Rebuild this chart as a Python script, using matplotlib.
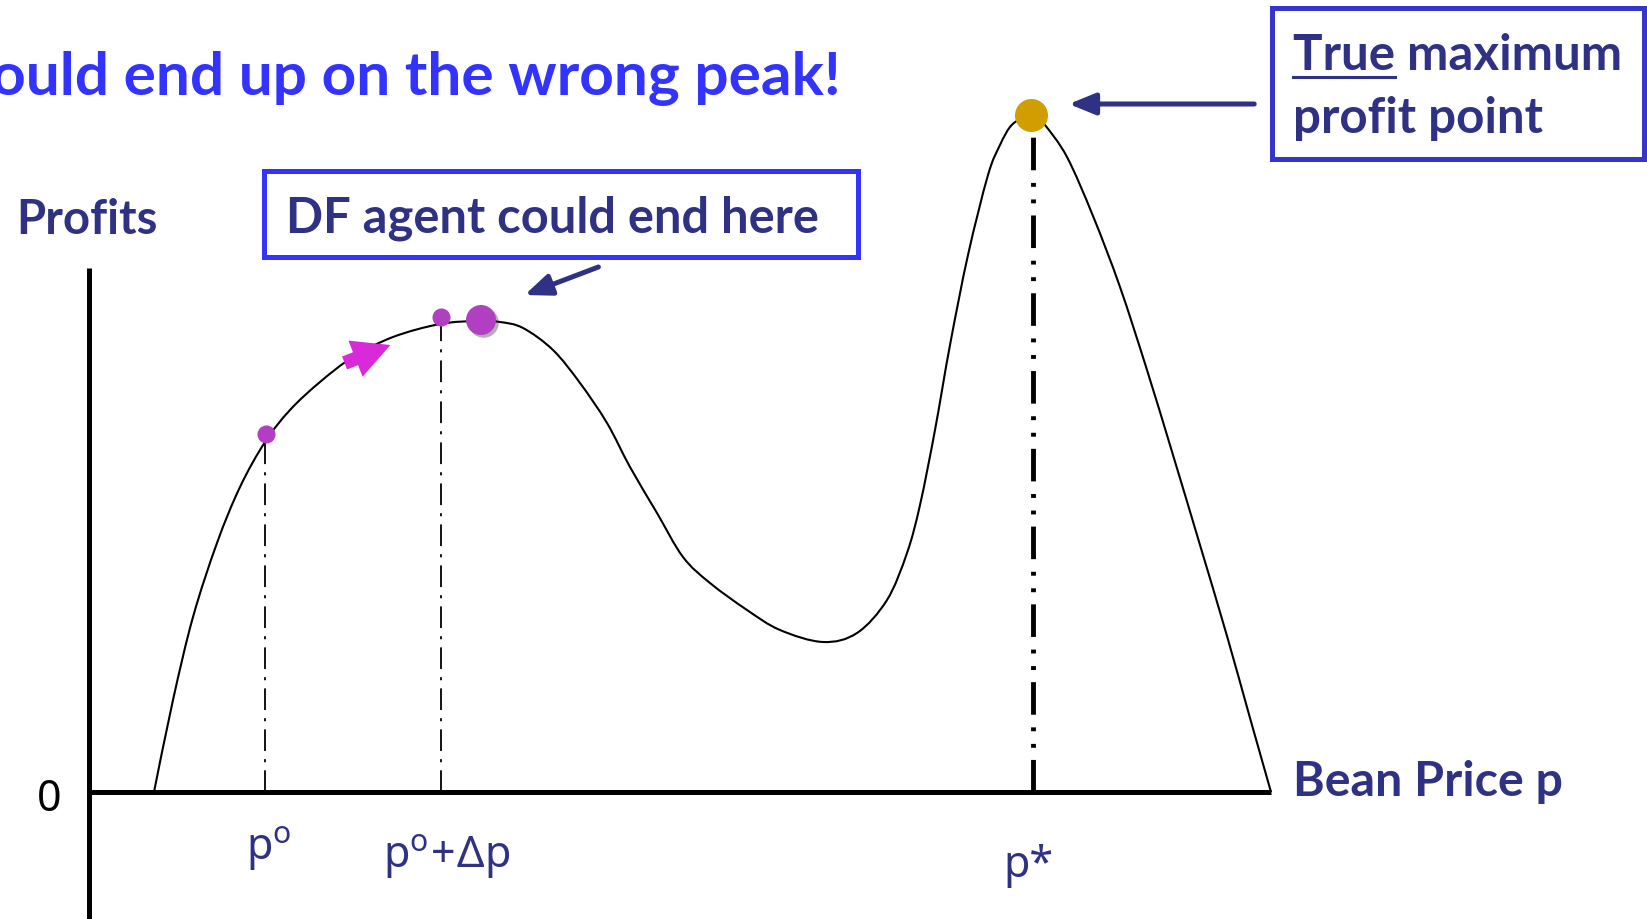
import matplotlib
matplotlib.use('Agg')
import numpy as np
import matplotlib.pyplot as plt
import matplotlib.patches as patches
import matplotlib.patheffects as pe
from matplotlib.lines import Line2D
from matplotlib.path import Path

plt.rcParams['font.family'] = ['Lato', 'DejaVu Sans']

# profit curve (price, profit)
preco = [0.65, 0.84, 1.04, 1.28, 1.51, 1.76, 2.01, 2.31, 2.64, 3.04, 3.51, 3.88,
         4.11, 4.34, 4.64, 4.91, 5.18, 5.41, 5.68, 5.94, 6.21, 6.58, 6.91, 7.34,
         7.68, 7.98, 8.18, 8.31, 8.46, 8.61, 8.79, 8.99, 9.11, 9.21, 9.31, 9.40,
         9.48, 9.56, 9.78, 10.04, 10.31, 10.58, 10.84, 11.11, 11.38, 11.61, 11.82]
lucro = [0.00, 0.92, 1.75, 2.49, 3.05, 3.50, 3.82, 4.10, 4.35, 4.55, 4.68, 4.71,
         4.70, 4.64, 4.42, 4.09, 3.69, 3.25, 2.79, 2.35, 2.09, 1.82, 1.62, 1.50,
         1.59, 1.92, 2.39, 2.87, 3.62, 4.47, 5.37, 6.17, 6.47, 6.65, 6.73, 6.76,
         6.74, 6.67, 6.35, 5.76, 5.05, 4.22, 3.37, 2.47, 1.56, 0.74, 0.00]

# agent's steps and the two peaks
passo_x = [1.77, 3.52]
passo_y = [3.58, 4.75]
fim_x, fim_y = 3.92, 4.72          # where the DF agent ends
pico_x, pico_y = 9.42, 6.77        # true maximum

# vertical guides
guia_x = [1.76, 3.52, 9.44]
guia_topo = [3.62, 4.67, 6.67]
rotulos = [r'$\mathregular{p^o}$', r'$\mathregular{p^o\!+\!\Delta p}$', 'p*']

cor_navy = '#2F3185'
cor_azul = '#3333FF'
cor_roxo = '#B13FC1'
cor_ouro = '#D19E00'
cor_magenta = '#D92AD9'

W, H = 1647, 919
fig = plt.figure(figsize=(W / 100, H / 100), dpi=100)
ax = fig.add_axes([0, 0, 1, 1])
ax.set_xlim(-0.89, 15.58)
ax.set_ylim(-1.27, 7.92)
ax.patch.set_visible(False)
ax.set_xticks([])
ax.set_yticks([])
for s in ['top', 'right']:
    ax.spines[s].set_visible(False)
ax.spines['left'].set_position(('data', 0))
ax.spines['bottom'].set_position(('data', 0))
ax.spines['left'].set_bounds(-1.27, 5.24)
ax.spines['bottom'].set_bounds(0, 11.82)
for s in ['left', 'bottom']:
    ax.spines[s].set_linewidth(3.6)
    ax.spines[s].set_capstyle('butt')


def fp(x, y):
    # pixel -> figure fraction
    return x / W, 1 - y / H


# curve: smooth bezier path through the read points (catmull-rom handles)
P = np.column_stack([preco, lucro])
Pe = np.vstack([P[0], P, P[-1]])
verts = [P[0]]
codes = [Path.MOVETO]
for i in range(1, len(Pe) - 2):
    c1 = Pe[i] + (Pe[i + 1] - Pe[i - 1]) / 6
    c2 = Pe[i + 1] - (Pe[i + 2] - Pe[i]) / 6
    verts += [c1, c2, Pe[i + 1]]
    codes += [Path.CURVE4] * 3
ax.add_patch(patches.PathPatch(Path(verts, codes), facecolor='none',
                               edgecolor='black', lw=1.5, zorder=3))

# guides
estilos = [(0, (12, 4.5, 1.7, 4.5)), (0, (12, 4.5, 1.7, 4.5)),
           (0, (6.7, 2.5, 0.8, 2.6, 0.8, 2.6))]
larguras = [1.3, 1.3, 3.5]
for gx, gt, ls, lw in zip(guia_x, guia_topo, estilos, larguras):
    ax.plot([gx, gx], [0, gt], color='black', lw=lw, linestyle=ls, zorder=2)

# dots
ax.scatter(passo_x, passo_y, s=169, color=cor_roxo, zorder=5, linewidths=0)
ax.scatter([fim_x], [fim_y], s=466, color=cor_roxo, zorder=5, linewidths=0,
           path_effects=[pe.SimplePatchShadow(offset=(2, -2), alpha=0.35),
                         pe.Normal()])
ax.scatter([pico_x], [pico_y], s=566, color=cor_ouro, zorder=5, linewidths=0)

# magenta block arrow along the curve
ax.add_patch(patches.FancyArrowPatch(
    (2.53, 4.28), (3.04, 4.48),
    arrowstyle='simple,head_length=27,head_width=28,tail_width=10',
    mutation_scale=1, color=cor_magenta, lw=0, zorder=4))

# tick labels
rot_y = [-0.68, -0.76, -0.85]
rot_dx = [0.04, 0.06, -0.05]
for gx, r, ry, dx in zip(guia_x, rotulos, rot_y, rot_dx):
    ax.text(gx + dx, ry, r, ha='center', va='baseline', fontsize=31,
            color=cor_navy, family='Noto Sans')
ax.text(-0.40, -0.19, '0', ha='center', va='baseline', fontsize=31,
        color='black', family='Noto Sans')

# texts
fig.text(*fp(841, 95), 'could end up on the wrong peak!', ha='right',
         va='baseline', fontsize=43.5, fontweight='bold', color=cor_azul)
fig.text(*fp(16, 234), 'Profits', ha='left', va='baseline', fontsize=34,
         fontweight='bold', color=cor_navy)
fig.text(*fp(1293, 796), 'Bean Price p', ha='left', va='baseline',
         fontsize=34.8, fontweight='bold', color=cor_navy)

# DF box
fig.add_artist(patches.Rectangle(fp(264, 257), 594 / W, 86 / H, fill=False,
                                 edgecolor=cor_azul, lw=3.6,
                                 transform=fig.transFigure))
fig.text(*fp(286, 233), 'DF agent could end here', ha='left', va='baseline',
         fontsize=35.2, fontweight='bold', color=cor_navy)

# true max box
fig.add_artist(patches.Rectangle(fp(1272, 159), 372 / W, 151 / H, fill=False,
                                 edgecolor='#3535CC', lw=3.6,
                                 transform=fig.transFigure))
fig.text(*fp(1293, 70), 'True maximum', ha='left', va='baseline',
         fontsize=35.5, fontweight='bold', color=cor_navy)
fig.text(*fp(1293, 133), 'profit point', ha='left', va='baseline',
         fontsize=35.5, fontweight='bold', color=cor_navy)
r = fig.canvas.get_renderer()
tmp = fig.text(*fp(1293, 70), 'True', ha='left', va='baseline', fontsize=35.5,
               fontweight='bold')
bb = tmp.get_window_extent(r)
tmp.remove()
fig.add_artist(Line2D([bb.x0 / W, bb.x1 / W], [1 - 77 / H, 1 - 77 / H],
                      color=cor_navy, lw=2.2, transform=fig.transFigure))

# navy arrows
ax.add_patch(patches.FancyArrowPatch(
    (11.68, 6.88), (9.77, 6.88),
    arrowstyle='-|>,head_length=16,head_width=6.5', mutation_scale=1,
    color=cor_navy, lw=3.6, zorder=4))
ax.add_patch(patches.FancyArrowPatch(
    (5.12, 5.26), (4.33, 4.96),
    arrowstyle='-|>,head_length=16,head_width=6.5', mutation_scale=1,
    color=cor_navy, lw=3.6, zorder=4))

fig.savefig('out.png', dpi=100)
